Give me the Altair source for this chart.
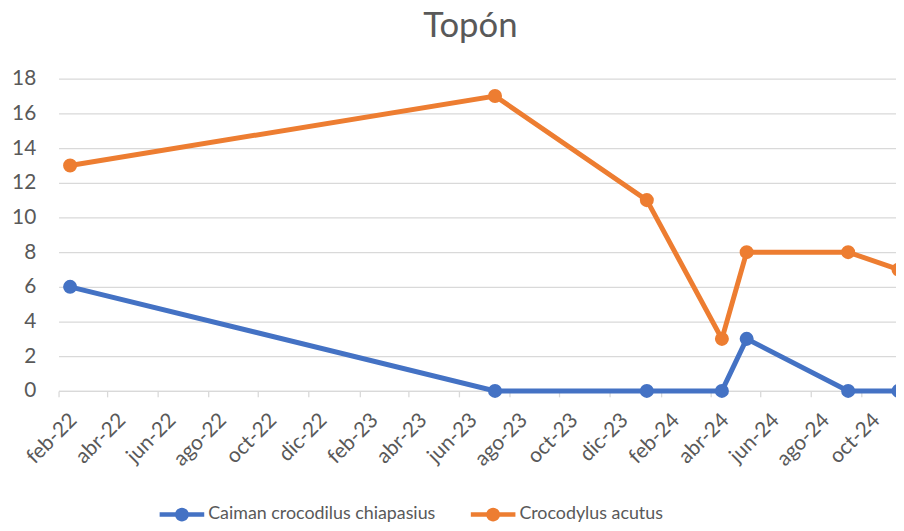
import altair as alt
import pandas as pd

# ---- data ----
dates = ["2022-02-15", "2023-07-15", "2024-01-15", "2024-04-15",
         "2024-05-15", "2024-09-15", "2024-11-15"]
caiman = [6, 0, 0, 0, 3, 0, 0]
crocodylus = [13, 17, 11, 3, 8, 8, 7]
series_names = ["Caiman crocodilus chiapasius", "Crocodylus acutus"]
series_colors = ["#4472C4", "#ED7D31"]

tick_dates = ["2022-02-01", "2022-04-01", "2022-06-01", "2022-08-01", "2022-10-01",
              "2022-12-01", "2023-02-01", "2023-04-01", "2023-06-01", "2023-08-01",
              "2023-10-01", "2023-12-01", "2024-02-01", "2024-04-01", "2024-06-01",
              "2024-08-01", "2024-10-01"]
month_abbr = ["ene", "feb", "mar", "abr", "may", "jun",
              "jul", "ago", "sep", "oct", "nov", "dic"]
y_ticks = [0, 2, 4, 6, 8, 10, 12, 14, 16, 18]
x_start, x_end = "2022-02-01", "2024-11-12"


def ms(s):
    return int(pd.Timestamp(s, tz="UTC").value // 10**6)


rows = []
for name, vals in zip(series_names, [caiman, crocodylus]):
    for d, v in zip(dates, vals):
        rows.append({"fecha": d, "valor": v, "serie": name})
df = pd.DataFrame(rows)

FONT = "Lato"
GRAY = "#595959"
GRID = "#d9d9d9"

label_expr = ("[" + ",".join("'%s'" % m for m in month_abbr) + "][utcmonth(datum.value)]"
              " + '-' + utcFormat(datum.value, '%y')")

x_enc = alt.X(
    "fecha:T",
    scale=alt.Scale(type="utc", domain=[ms(x_start), ms(x_end)], nice=False),
    axis=alt.Axis(
        values=[ms(t) for t in tick_dates],
        labelExpr=label_expr,
        labelAngle=-45, labelAlign="right", labelBaseline="middle",
        labelOffset=15, labelPadding=20,
        labelFont=FONT, labelFontSize=21, labelColor=GRAY,
        domainColor=GRID, domainWidth=1.3,
        tickColor=GRID, tickSize=6, tickWidth=1.3,
        grid=False, title=None, labelOverlap=False, labelBound=False,
    ),
)
y_enc = alt.Y(
    "valor:Q",
    scale=alt.Scale(domain=[0, 18], nice=False),
    axis=alt.Axis(
        values=y_ticks, grid=True, gridColor=GRID, gridWidth=1.3,
        domain=False, ticks=False, labelPadding=23,
        labelFont=FONT, labelFontSize=21, labelColor=GRAY, title=None,
    ),
)
color_scale = alt.Scale(domain=series_names, range=series_colors)

symbol_path = ("M-1,-0.1 L1,-0.1 L1,0.1 L-1,0.1 Z "
               "M0.31,0 A0.31,0.31 0 1,1 -0.31,0 A0.31,0.31 0 1,1 0.31,0 Z")

lines = alt.Chart(df).mark_line(strokeWidth=5).encode(
    x=x_enc, y=y_enc,
    color=alt.Color("serie:N", scale=color_scale, legend=None),
    detail="serie:N",
)
points = alt.Chart(df).mark_point(filled=True, size=200, opacity=1).encode(
    x=x_enc, y=y_enc,
    color=alt.Color(
        "serie:N", scale=color_scale,
        legend=alt.Legend(
            title=None, orient="none", direction="horizontal",
            legendX=102, legendY=417, padding=0,
            symbolType=symbol_path, symbolSize=2025, symbolStrokeWidth=0,
            symbolOpacity=1, labelOffset=4, columnPadding=35, labelLimit=400,
            labelFont=FONT, labelFontSize=18, labelColor=GRAY,
        ),
    ),
)

chart = alt.layer(lines, points).resolve_legend(color="independent").properties(
    width=845, height=315,
    autosize=alt.AutoSizeParams(type="none"),
    padding={"left": 51, "top": 69, "right": 0, "bottom": 138},
    title=alt.Title("Topón", font=FONT, fontSize=35, fontWeight="normal",
                    color=GRAY, anchor="middle", dx=-7, dy=3, offset=27),
).configure_view(stroke=None)

chart.save("out.html", embed_options={"renderer": "svg", "actions": False})
